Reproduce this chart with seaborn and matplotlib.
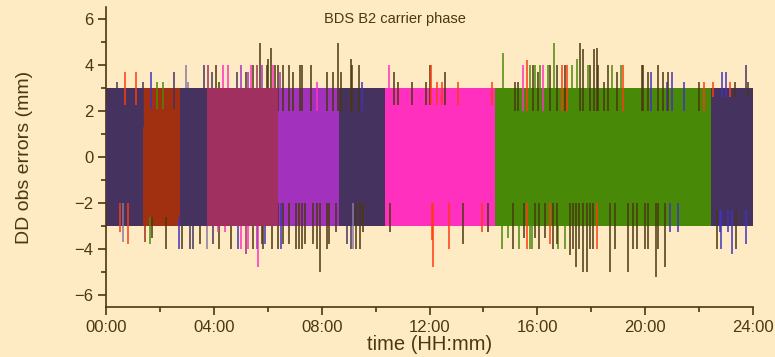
import matplotlib
matplotlib.use("Agg")
import matplotlib.pyplot as plt
from matplotlib.ticker import MultipleLocator, FixedLocator
import seaborn as sns
import pandas as pd

# ---------------- data ----------------
# satellite-pair segments (hours)
seg_start = [0.00, 1.37, 1.62, 2.74, 3.75, 6.38, 8.64, 10.35, 14.43, 22.44]
seg_end = [1.37, 1.62, 2.74, 3.75, 6.38, 8.64, 10.35, 14.43, 22.44, 24.00]
seg_color = ["d", "o", "o", "d", "m", "v", "d", "p", "g", "d"]
core_top = [2.25, 1.3, 2.1, 3.0, 3.0, 2.0, 2.0, 2.25, 2.0, 2.6]
core_bot = [-2.0, -2.6, -2.6, -3.0, -3.0, -2.0, -2.0, -2.0, -2.0, -2.3]
outer_top = [3.0, 3.0, 3.0, 3.0, 3.0, 3.0, 3.0, 3.0, 3.0, 3.0]
outer_bot = [-3.0, -3.0, -3.0, -3.0, -3.0, -3.0, -3.0, -3.0, -3.0, -3.0]

# isolated large errors (hours, mm, colour code)
up_time = [0.40, 0.70, 1.11, 1.36, 1.66, 1.88, 2.11, 2.52, 2.96, 3.04, 3.64, 3.77, 3.92, 4.08,
           4.19, 4.34, 4.53, 4.85, 5.00, 5.18, 5.26, 5.37, 5.45, 5.59, 5.71, 5.79, 5.96, 6.00,
           6.11, 6.21, 6.27, 6.39, 6.45, 6.58, 6.80, 6.95, 7.20, 7.26, 7.60, 7.84, 8.21, 8.41,
           8.62, 8.72, 9.09, 9.14, 9.40, 9.49, 10.51, 10.68, 10.84, 11.34, 11.86, 12.01, 12.06,
           12.28, 12.46, 12.58, 13.05, 14.31, 14.72, 15.17, 15.28, 15.46, 15.61, 15.73, 15.85,
           15.91, 16.04, 16.10, 16.22, 16.41, 16.47, 16.62, 16.72, 16.90, 17.03, 17.11, 17.27,
           17.46, 17.58, 17.68, 17.89, 17.95, 18.11, 18.20, 18.26, 18.48, 18.63, 18.76, 18.94,
           19.10, 19.19, 19.87, 19.93, 20.09, 20.21, 20.46, 20.65, 20.80, 20.86, 20.98, 21.45,
           22.00, 22.19, 22.53, 22.86, 23.00, 23.15, 23.33, 23.73, 23.83]
up_value = [3.25, 3.7, 3.7, 3.25, 3.7, 3.25, 3.25, 3.7, 4.0, 3.25, 4.0, 4.0, 3.7, 4.0,
            3.25, 4.0, 4.0, 3.7, 4.0, 3.7, 3.7, 4.0, 4.0, 4.0, 4.95, 4.0, 4.0, 4.25,
            4.75, 4.0, 4.0, 4.0, 3.7, 4.0, 4.0, 3.7, 4.0, 4.0, 4.0, 3.25, 3.7, 3.7,
            4.95, 3.7, 4.25, 4.0, 4.0, 3.25, 4.0, 3.7, 3.25, 3.25, 3.25, 4.0, 4.0,
            3.25, 3.25, 3.7, 3.25, 3.25, 4.5, 3.25, 3.25, 4.0, 4.2, 4.0, 4.0,
            4.0, 3.7, 4.0, 4.0, 4.0, 4.0, 4.95, 4.0, 4.0, 4.0, 4.0, 4.0,
            4.25, 4.95, 4.7, 4.0, 4.0, 4.7, 4.75, 4.0, 3.25, 4.0, 4.0, 3.7,
            4.0, 4.0, 4.0, 4.0, 3.7, 3.7, 4.0, 3.7, 3.25, 3.7, 3.7, 3.25,
            3.25, 3.25, 3.25, 3.7, 3.7, 3.25, 3.25, 4.0, 3.25]
up_color = ["d", "r", "r", "d", "b", "g", "g", "d", "y", "y", "d", "m", "d", "k",
            "k", "p", "p", "d", "v", "k", "v", "p", "k", "m", "k", "v", "k", "k",
            "k", "p", "k", "k", "v", "k", "k", "k", "k", "k", "k", "p", "k", "k",
            "k", "k", "k", "k", "k", "b", "p", "k", "k", "k", "k", "k", "r",
            "r", "r", "k", "r", "r", "g", "k", "k", "p", "r", "g", "k",
            "g", "k", "g", "p", "g", "k", "g", "k", "r", "k", "r", "g",
            "g", "k", "k", "g", "k", "k", "k", "k", "k", "k", "g", "k",
            "g", "r", "k", "k", "k", "b", "k", "k", "b", "k", "b", "b",
            "k", "r", "r", "b", "b", "r", "k", "d", "k"]

down_time = [0.52, 0.62, 0.80, 1.45, 1.63, 1.70, 2.23, 2.71, 2.81, 3.12, 3.22, 3.49, 3.76, 3.96,
             4.17, 4.20, 4.41, 4.64, 4.89, 5.00, 5.18, 5.28, 5.46, 5.59, 5.65, 5.78, 5.83, 5.90,
             6.17, 6.39, 6.49, 6.58, 6.79, 7.04, 7.17, 7.28, 7.38, 7.69, 7.84, 7.94, 8.19, 8.28,
             8.53, 8.93, 9.09, 9.17, 9.26, 9.42, 9.54, 10.53, 12.08, 12.14, 12.73, 13.25, 13.94,
             14.18, 14.68, 14.92, 15.11, 15.33, 15.52, 15.63, 15.73, 15.79, 15.91, 16.07, 16.28,
             16.47, 16.59, 16.72, 16.78, 17.03, 17.21, 17.31, 17.43, 17.56, 17.70, 17.83, 17.95,
             18.08, 18.20, 18.70, 18.88, 19.38, 19.56, 19.68, 19.99, 20.12, 20.40, 20.49, 20.73,
             20.92, 21.23, 22.65, 22.77, 22.83, 23.08, 23.21, 23.37, 23.74]
down_value = [-3.25, -3.7, -3.75, -3.7, -3.75, -3.5, -4.0, -4.0, -4.0, -4.0, -4.0, -3.75, -4.0, -3.75,
              -3.25, -4.0, -3.25, -4.0, -4.0, -4.0, -4.2, -4.0, -4.0, -4.0, -4.75, -3.75, -4.0, -3.75,
              -4.0, -4.0, -4.0, -3.75, -3.75, -4.0, -4.0, -4.0, -3.75, -3.75, -4.0, -5.0, -4.0, -3.75,
              -3.25, -3.75, -4.0, -4.0, -4.0, -4.0, -3.25, -3.25, -3.6, -4.75, -4.0, -3.75, -3.25,
              -3.25, -4.0, -3.5, -4.0, -4.0, -3.5, -4.0, -4.0, -4.0, -3.5, -4.0, -3.5,
              -3.75, -4.0, -3.75, -4.0, -4.0, -4.25, -4.0, -4.75, -4.0, -5.0, -5.0, -4.0,
              -4.0, -4.0, -5.0, -4.0, -5.0, -4.0, -4.0, -4.0, -4.0, -5.2, -4.0, -4.75,
              -3.25, -3.25, -4.0, -3.25, -4.0, -3.25, -4.2, -4.0, -3.75]
down_color = ["r", "y", "r", "o", "g", "k", "k", "b", "k", "d", "d", "k", "y", "d",
              "p", "k", "p", "k", "b", "p", "m", "p", "k", "v", "p", "k", "k", "b",
              "k", "k", "b", "k", "k", "k", "k", "k", "k", "k", "k", "k", "k", "k",
              "k", "d", "d", "y", "k", "k", "k", "k", "r", "r", "r", "k", "r",
              "k", "g", "g", "k", "g", "k", "r", "g", "g", "k", "k", "k",
              "r", "k", "k", "g", "g", "k", "k", "k", "k", "k", "k", "k",
              "k", "r", "k", "k", "k", "k", "k", "k", "k", "k", "k", "k",
              "b", "b", "k", "b", "b", "b", "b", "k", "b"]

x_ticks = [0, 4, 8, 12, 16, 20, 24]
x_labels = ["00:00", "04:00", "08:00", "12:00", "16:00", "20:00", "24:00"]
y_ticks = [-6, -4, -2, 0, 2, 4, 6]

palette = {"d": "#45325F", "o": "#A0300F", "m": "#A03060", "v": "#A232BE",
           "p": "#FF30BE", "g": "#488A08", "k": "#4A3810", "r": "#FF3A10",
           "b": "#4232C0", "y": "#8A7AA0"}

# ---------------- style ----------------
BG = "#FFEBC3"
INK = "#4A3810"
sns.set_theme(style="ticks", rc={
    "figure.facecolor": BG, "axes.facecolor": BG,
    "axes.edgecolor": INK, "axes.linewidth": 1.2,
    "xtick.color": INK, "ytick.color": INK,
    "text.color": INK, "axes.labelcolor": INK,
})
plt.rcParams["font.family"] = ["Liberation Sans", "DejaVu Sans"]

fig = plt.figure(figsize=(7.75, 3.57), dpi=100)
ax = fig.add_axes([0.1368, 0.140, 0.8348, 0.840])

# outer noise envelope
for s, e, c, ct, cb, ot, ob in zip(seg_start, seg_end, seg_color, core_top, core_bot,
                                    outer_top, outer_bot):
    ax.fill_between([s, e], [ct, ct], [ot, ot], color=palette[c], lw=0, zorder=1)
    ax.fill_between([s, e], [ob, ob], [cb, cb], color=palette[c], lw=0, zorder=1)

# isolated spikes
spikes = pd.DataFrame({
    "t": up_time + down_time,
    "v": up_value + down_value,
    "c": up_color + down_color,
})
for code, grp in spikes.groupby("c"):
    ax.vlines(grp["t"], 0, grp["v"], colors=palette[code], lw=1.1, zorder=2)

# core band
for s, e, c, ct, cb in zip(seg_start, seg_end, seg_color, core_top, core_bot):
    ax.fill_between([s, e], [cb, cb], [ct, ct], color=palette[c], lw=0, zorder=3)

ax.set_xlim(0, 24)
ax.set_ylim(-6.5, 6.5)
ax.xaxis.set_major_locator(FixedLocator(x_ticks))
ax.set_xticklabels(x_labels)
ax.xaxis.set_minor_locator(MultipleLocator(2))
ax.yaxis.set_major_locator(FixedLocator(y_ticks))
ax.yaxis.set_minor_locator(MultipleLocator(1))
ax.tick_params(axis="both", which="major", length=6, width=1.2, labelsize=12, pad=3)
ax.tick_params(axis="both", which="minor", length=3.5, width=1.2)
sns.despine(ax=ax)

ax.set_xlabel("time (HH:mm)", fontsize=14.5, labelpad=0)
ax.set_ylabel("DD obs errors (mm)", fontsize=14, labelpad=30)
ax.text(10.72, 6.0, "BDS B2 carrier phase", ha="center", va="center", fontsize=10.5,
        color=INK)

fig.savefig("out.png", dpi=100, facecolor=BG)
